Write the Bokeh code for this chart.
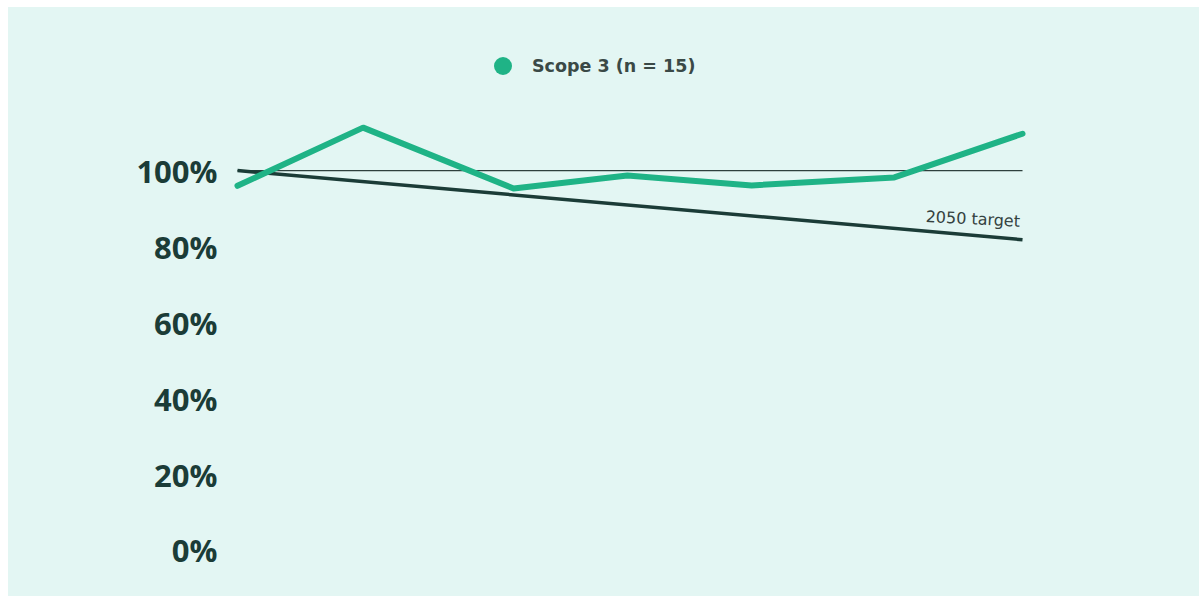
from bokeh.plotting import figure
from bokeh.models import (Range1d, FixedTicker, PrintfTickFormatter, Legend, LegendItem)
from bokeh.core.properties import value
from bokeh.embed import file_html
from bokeh.resources import INLINE

# ---- data ----
period = [0.0, 0.96, 2.11, 2.98, 3.93, 5.02, 6.0]
scope3 = [96.0, 111.3, 95.3, 98.7, 96.1, 98.2, 109.7]
baseline_x = [0.0, 6.0]
baseline_y = [100, 100]
target_x = [0.0, 6.0]
target_y = [100, 81.8]
target_label = ["2050 target"]
y_ticks = [0, 20, 40, 60, 80, 100]
series_name = "Scope 3 (n = 15)"

GREEN = "#1fb386"
DARK = "#1b3c37"
BG = "#e3f6f3"

p = figure(width=1191, height=589, output_backend="svg", toolbar_location=None,
           x_range=Range1d(-0.0535, 6.061), y_range=Range1d(-7.9, 139.5),
           min_border_left=222, min_border_right=169, min_border_top=13, min_border_bottom=16)
p.margin = (7, 0, 0, 8)
p.styles = {"background-color": BG}
p.background_fill_alpha = 0
p.border_fill_alpha = 0
p.outline_line_color = None
p.grid.visible = False
p.xaxis.visible = False

ya = p.yaxis[0]
ya.ticker = FixedTicker(ticks=y_ticks)
ya.formatter = PrintfTickFormatter(format="%d%%")
ya.axis_line_color = None
ya.major_tick_line_color = None
ya.minor_tick_line_color = None
ya.major_tick_out = 0
ya.major_tick_in = 0
ya.major_label_standoff = 13
ya.major_label_text_font = "Open Sans"
ya.major_label_text_font_style = "bold"
ya.major_label_text_font_size = "31px"
ya.major_label_text_color = DARK

# 100% reference line
p.line(baseline_x, baseline_y, line_color="#2e403d", line_width=1.3)
# target line
p.line(target_x, target_y, line_color=DARK, line_width=3.5)
# target label
p.text(x=[target_x[-1]], y=[target_y[-1]], text=target_label, x_offset=-3, y_offset=-9,
       text_align="right", text_baseline="bottom", angle=-0.05,
       text_font=value("DejaVu Sans"), text_font_size="16px", text_color="#34423f")
# scope 3 series
p.line(period, scope3, line_color=GREEN, line_width=6, line_join="round", line_cap="round")

# zero-size markers on the series: only used to give the legend a round glyph
leg_r = p.scatter(x=period, y=scope3, marker="circle", size=0,
                  fill_color=GREEN, line_color=None)
legend = Legend(items=[LegendItem(label=series_name, renderers=[leg_r])],
                location=(250, 492), orientation="horizontal",
                glyph_width=45, glyph_height=45, label_standoff=7,
                padding=0, margin=0, spacing=0,
                border_line_color=None, background_fill_alpha=0,
                label_text_font="DejaVu Sans", label_text_font_style="bold",
                label_text_font_size="17.5px", label_text_color="#3a4946")
p.add_layout(legend, "center")

open("out.html", "w").write(file_html(p, INLINE))
